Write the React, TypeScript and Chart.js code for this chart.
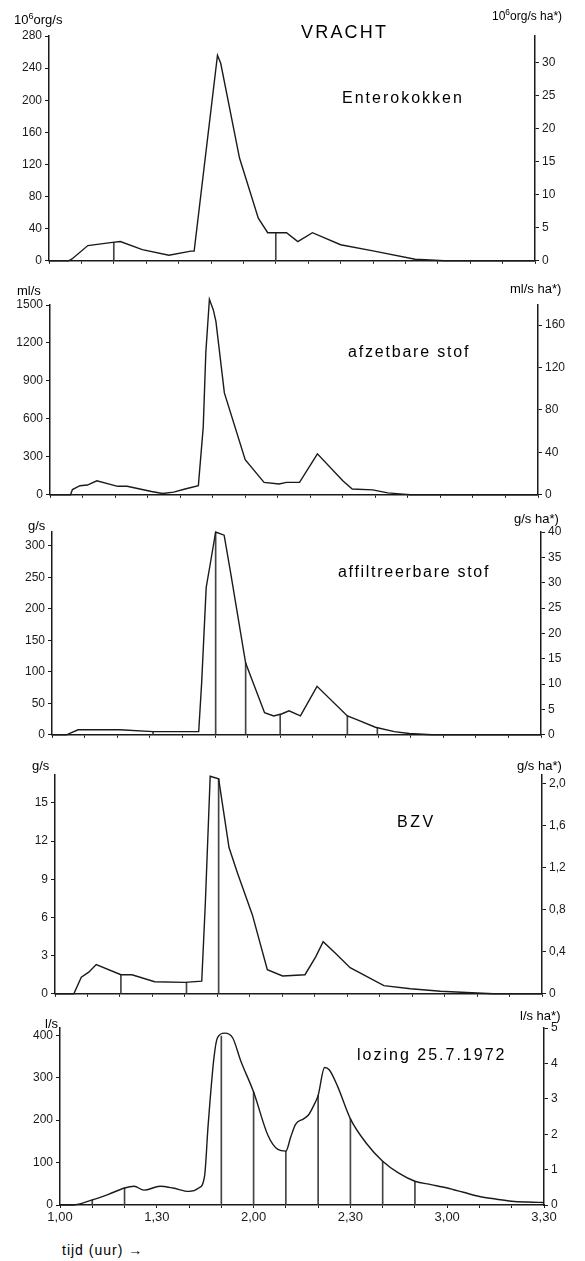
import React, { useEffect, useRef } from 'react';
import { Chart, registerables } from 'chart.js';

Chart.register(...registerables);

const FONT = '"Liberation Sans", Arial, Helvetica, sans-serif';
const INK = '#1a1a1a';

// time axis: minutes after midnight (1,00 = 60 ... 3,30 = 210)
const timeTicks = [60, 90, 120, 150, 180, 210];

// Panel 1: Enterokokken (10^6 org/s)
const entTime = [60, 66, 67, 72, 79.6, 82, 88.8, 97, 103.8, 104.8, 112, 113, 118.8, 124.6, 127.5, 133.3, 136.8, 141.3, 150, 160.4, 173, 182, 210];
const entValue = [0, 0, 2, 19, 23, 24, 14, 7, 12, 12, 256, 246, 128, 53, 35, 35, 24, 35, 20, 12, 2, 0, 0];
const entDropTime = [80, 130];
const entDropValue = [23, 35];

// Panel 2: afzetbare stof (ml/s)
const afzTime = [60, 66.3, 66.9, 69.2, 71.5, 74.4, 80.8, 83.7, 91.2, 94.6, 98, 101.5, 105.6, 107.1, 107.9, 109, 110.2, 111, 113.6, 120, 125.8, 130.4, 132.7, 136.7, 142.2, 150, 152.9, 159.2, 163.8, 168.5, 170.8, 210];
const afzValue = [0, 0, 41, 72, 77, 111, 67, 67, 26, 10, 21, 46, 72, 535, 1127, 1545, 1461, 1371, 805, 278, 98, 85, 98, 98, 324, 111, 46, 39, 15, 5, 0, 0];
const afzDropTime: number[] = [];
const afzDropValue: number[] = [];

// Panel 3: affiltreerbare stof (g/s)
const affTime = [60, 64.5, 65.8, 68, 80.8, 91, 100.4, 105, 105.9, 107.3, 108.5, 110.2, 112.8, 114.8, 119.4, 125.2, 128, 130.4, 132.7, 136.2, 141.3, 150.6, 153.5, 159.2, 165, 169.6, 176.5, 210];
const affValue = [0, 0, 3, 8, 8, 5, 5, 5, 82, 234, 270, 322, 317, 257, 114, 35, 30, 33, 38, 30, 77, 30, 24, 12, 5, 2, 0, 0];
const affDropTime = [91, 110.2, 119.4, 130, 150.6, 159.8];
const affDropValue = [5, 320, 114, 33, 30, 12];

// Panel 4: BZV (g/s)
const bzvTime = [60, 65.8, 68.1, 70.4, 72.7, 80.3, 83.7, 90.7, 100, 105.2, 106.3, 107.8, 110.4, 113.6, 116.2, 120.8, 125.4, 130.1, 137, 140.3, 142.6, 146.3, 150.9, 161.3, 169.5, 178.8, 186.8, 195, 210];
const bzvValue = [0, 0, 1.3, 1.7, 2.3, 1.5, 1.5, 0.95, 0.9, 1.0, 7.1, 17.1, 16.9, 11.5, 9.5, 6.2, 1.9, 1.4, 1.5, 2.9, 4.1, 3.2, 2.05, 0.64, 0.4, 0.2, 0.1, 0, 0];
const bzvDropTime = [80.3, 100.5, 110.4];
const bzvDropValue = [1.5, 0.9, 16.9];

// Panel 5: lozing 25.7.1972 (l/s)
const lozTime = [60, 64, 70, 75, 80, 83, 86, 91, 95, 100, 103, 104.8, 105.9, 107.7, 108.8, 111, 113.5, 116, 120, 124.5, 127.5, 130, 131.5, 133, 135.5, 137, 139, 140, 142, 143.5, 146, 150, 155, 160, 165, 170, 175, 180, 185, 190, 195, 200, 205, 210];
const lozValue = [0, 0, 12, 25, 40, 44, 35, 44, 40, 32, 40, 68, 187, 346, 394, 405, 394, 340, 266, 163, 131, 127, 160, 190, 203, 212, 240, 258, 324, 318, 280, 203, 145, 103, 75, 56, 48, 40, 30, 20, 14, 9, 7, 6];
const lozDropTime = [70, 80, 110, 120, 130, 140, 150, 160, 170];
const lozDropValue = [12, 40, 398, 266, 127, 258, 203, 103, 56];

const fmtTime = (v: number) => {
  const h = Math.floor(v / 60);
  const m = Math.round(v % 60);
  return `${h},${String(m).padStart(2, '0')}`;
};
const comma1 = (v: number) => (Math.abs(v) < 1e-9 ? '0' : v.toFixed(1).replace('.', ','));
const plain = (v: number) => String(Math.round(v * 1000) / 1000);

type PanelCfg = {
  top: number; // pixel y of axis max
  bottom: number; // pixel y of zero
  left: number;
  right: number;
  leftMax: number;
  leftStep: number;
  rightMax: number;
  rightStep: number;
  rightFmt?: (v: number) => string;
  time: number[];
  value: number[];
  dropTime: number[];
  dropValue: number[];
  smooth?: boolean;
  xLabels?: boolean;
};

const PADT = 12;

function Panel({ cfg }: { cfg: PanelCfg }) {
  const ref = useRef<HTMLCanvasElement | null>(null);
  const xH = cfg.xLabels ? 30 : 6;
  const h = cfg.bottom - cfg.top + PADT + xH;

  useEffect(() => {
    if (!ref.current) return;
    const tickFont = { family: FONT, size: 12 };
    const chart = new Chart(ref.current, {
      type: 'line',
      data: {
        datasets: [
          {
            type: 'line',
            data: cfg.time.map((t, i) => ({ x: t, y: cfg.value[i] })),
            borderColor: INK,
            borderWidth: 1.4,
            pointRadius: 0,
            fill: false,
            tension: cfg.smooth ? 0.4 : 0,
            cubicInterpolationMode: cfg.smooth ? 'monotone' : 'default',
            clip: false,
            yAxisID: 'y',
          } as any,
          {
            type: 'bar',
            data: cfg.dropTime.map((t, i) => ({ x: t, y: cfg.dropValue[i] })),
            backgroundColor: '#444',
            barThickness: 1,
            yAxisID: 'y',
          } as any,
        ],
      },
      options: {
        responsive: false,
        animation: false,
        layout: { padding: { top: PADT, left: 0, right: 0, bottom: 0 } },
        plugins: { legend: { display: false }, tooltip: { enabled: false } },
        scales: {
          x: {
            type: 'linear',
            min: 60,
            max: 210,
            offset: false,
            grid: { offset: false, drawOnChartArea: false, drawTicks: true, tickLength: 3, color: INK },
            border: { display: true, color: INK, width: 1.5 },
            ticks: {
              display: !!cfg.xLabels,
              stepSize: 10,
              autoSkip: false,
              maxRotation: 0,
              font: { family: FONT, size: 13 },
              color: INK,
              padding: 2,
              callback: (v: any) => (timeTicks.includes(Number(v)) ? fmtTime(Number(v)) : ''),
            },
            afterFit: (s: any) => {
              s.height = xH;
            },
          },
          y: {
            type: 'linear',
            position: 'left',
            min: 0,
            max: cfg.leftMax,
            grid: { drawOnChartArea: false, drawTicks: true, tickLength: 4, color: INK },
            border: { display: true, color: INK, width: 1.5 },
            ticks: {
              stepSize: cfg.leftStep,
              includeBounds: false,
              font: tickFont,
              color: INK,
              padding: 3,
              callback: (v: any) => plain(Number(v)),
            },
            afterFit: (s: any) => {
              s.width = cfg.left;
            },
          },
          y1: {
            type: 'linear',
            position: 'right',
            min: 0,
            max: cfg.rightMax,
            grid: { drawOnChartArea: false, drawTicks: true, tickLength: 4, color: INK },
            border: { display: true, color: INK, width: 1.5 },
            ticks: {
              stepSize: cfg.rightStep,
              includeBounds: false,
              font: tickFont,
              color: INK,
              padding: 3,
              callback: (v: any) => (cfg.rightFmt ? cfg.rightFmt(Number(v)) : plain(Number(v))),
            },
            afterFit: (s: any) => {
              s.width = 585 - cfg.right;
            },
          },
        },
      } as any,
    });
    return () => chart.destroy();
  }, []);

  return (
    <canvas
      ref={ref}
      width={585}
      height={h}
      style={{ position: 'absolute', left: 0, top: cfg.top - PADT, width: 585, height: h }}
    />
  );
}

const panels: PanelCfg[] = [
  { top: 36, bottom: 265, left: 49, right: 535, leftMax: 280, leftStep: 40, rightMax: 34, rightStep: 5, time: entTime, value: entValue, dropTime: entDropTime, dropValue: entDropValue },
  { top: 305, bottom: 499, left: 50, right: 538, leftMax: 1500, leftStep: 300, rightMax: 179, rightStep: 40, time: afzTime, value: afzValue, dropTime: afzDropTime, dropValue: afzDropValue },
  { top: 532, bottom: 739, left: 52, right: 541, leftMax: 322, leftStep: 50, rightMax: 40, rightStep: 5, time: affTime, value: affValue, dropTime: affDropTime, dropValue: affDropValue },
  { top: 775, bottom: 998, left: 55, right: 542, leftMax: 17.2, leftStep: 3, rightMax: 2.08, rightStep: 0.4, rightFmt: comma1, time: bzvTime, value: bzvValue, dropTime: bzvDropTime, dropValue: bzvDropValue },
  { top: 1028, bottom: 1205, left: 60, right: 544, leftMax: 417, leftStep: 100, rightMax: 5, rightStep: 1, time: lozTime, value: lozValue, dropTime: lozDropTime, dropValue: lozDropValue, smooth: true, xLabels: true },
];

type Txt = { t: React.ReactNode; x: number; cy: number; size: number; ls?: number };

const texts: Txt[] = [
  { t: <>10<sup style={{ fontSize: '0.7em' }}>6</sup>org/s</>, x: 14, cy: 19, size: 13 },
  { t: 'VRACHT', x: 301, cy: 32, size: 18, ls: 2.2 },
  { t: <>10<sup style={{ fontSize: '0.7em' }}>6</sup>org/s ha*)</>, x: 492, cy: 15, size: 12 },
  { t: 'Enterokokken', x: 342, cy: 98, size: 16, ls: 2 },
  { t: 'ml/s', x: 17, cy: 290, size: 13 },
  { t: 'ml/s ha*)', x: 510, cy: 288, size: 13 },
  { t: 'afzetbare stof', x: 348, cy: 352, size: 16, ls: 1.8 },
  { t: 'g/s', x: 28, cy: 525, size: 13 },
  { t: 'g/s ha*)', x: 514, cy: 518, size: 13 },
  { t: 'affiltreerbare stof', x: 338, cy: 572, size: 16, ls: 1.7 },
  { t: 'g/s', x: 32, cy: 765, size: 13 },
  { t: 'g/s ha*)', x: 517, cy: 765, size: 13 },
  { t: 'BZV', x: 397, cy: 822, size: 16, ls: 2.5 },
  { t: 'l/s', x: 45, cy: 1023, size: 13 },
  { t: 'l/s ha*)', x: 520, cy: 1015, size: 13 },
  { t: 'lozing 25.7.1972', x: 357, cy: 1055, size: 16, ls: 2 },
  { t: 'tijd (uur) →', x: 62, cy: 1250, size: 14, ls: 1 },
];

export default function App() {
  return (
    <div style={{ position: 'absolute', left: 0, top: 0, width: 585, height: 1261, background: '#fff', overflow: 'hidden' }}>
      {panels.map((p, i) => (
        <Panel key={i} cfg={p} />
      ))}
      {texts.map((s, i) => (
        <div
          key={'t' + i}
          style={{
            position: 'absolute',
            left: s.x,
            top: s.cy,
            transform: 'translateY(-50%)',
            fontFamily: FONT,
            fontSize: s.size,
            letterSpacing: s.ls ?? 0,
            color: '#000',
            whiteSpace: 'nowrap',
            lineHeight: 1,
          }}
        >
          {s.t}
        </div>
      ))}
    </div>
  );
}
